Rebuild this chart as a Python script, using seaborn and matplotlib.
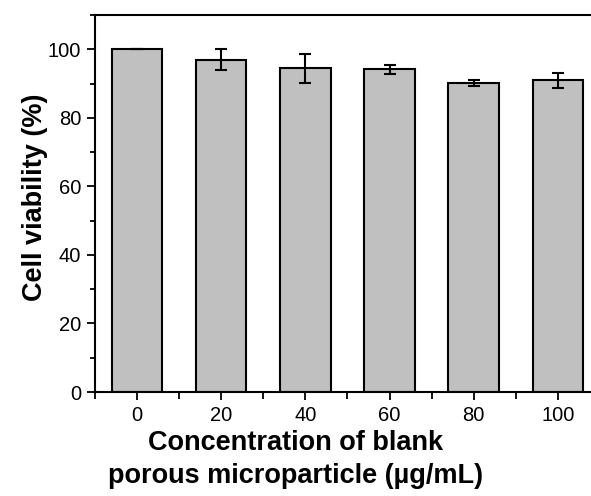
import matplotlib
matplotlib.use("Agg")
import matplotlib.pyplot as plt
import seaborn as sns
import pandas as pd
from matplotlib.ticker import MultipleLocator

concentrations = ["0", "20", "40", "60", "80", "100"]
viability = [100.0, 97.0, 94.4, 94.1, 90.1, 91.0]
errors = [0.0, 3.0, 4.3, 1.3, 0.9, 2.2]

sns.set_theme(style="ticks")
plt.rcParams['font.family'] = ['Liberation Sans', 'DejaVu Sans']
plt.rcParams['text.color'] = 'black'
plt.rcParams['axes.labelcolor'] = 'black'

df = pd.DataFrame({"conc": concentrations, "viab": viability})

fig = plt.figure(figsize=(5.91, 4.96), dpi=100)
ax = fig.add_axes([95/591, 104/496, 505/591, 377/496])

sns.barplot(data=df, x="conc", y="viab", order=concentrations, color="#c0c0c0",
            edgecolor="black", linewidth=1.5, width=0.6, errorbar=None, ax=ax,
            saturation=1)
for b in ax.patches:
    b.set_facecolor("#c0c0c0")

ax.errorbar(range(len(concentrations)), viability, yerr=errors, fmt="none",
            ecolor="black", elinewidth=1.5, capsize=4, capthick=1.5, zorder=5)

ax.set_xlim(-0.5, 5.5)
ax.set_ylim(0, 110)
ax.yaxis.set_major_locator(MultipleLocator(20))
ax.yaxis.set_minor_locator(MultipleLocator(10))
ax.xaxis.set_minor_locator(MultipleLocator(0.5))

for s in ["left", "bottom", "top"]:
    ax.spines[s].set_visible(True)
    ax.spines[s].set_linewidth(1.5)
    ax.spines[s].set_color("black")
ax.spines["right"].set_visible(False)

ax.tick_params(axis="both", which="major", direction="out", length=6, width=1.3,
               labelsize=14.5, colors="black", labelcolor="black", pad=4)
ax.tick_params(axis="both", which="minor", direction="out", length=3.5, width=1.3,
               colors="black")
ax.tick_params(axis="x", which="minor", length=5)
ax.tick_params(top=False, right=False, which="both")

ax.set_ylabel("Cell viability (%)", fontsize=19.5, fontweight="bold", color="black")
ax.yaxis.set_label_coords(-0.094, 0.516)
ax.set_xlabel("Concentration of blank\nporous microparticle (µg/mL)", fontsize=19.5,
              fontweight="bold", linespacing=1.35, color="black")
ax.xaxis.set_label_coords(0.398, -0.1)

fig.savefig("out.png", dpi=100)
